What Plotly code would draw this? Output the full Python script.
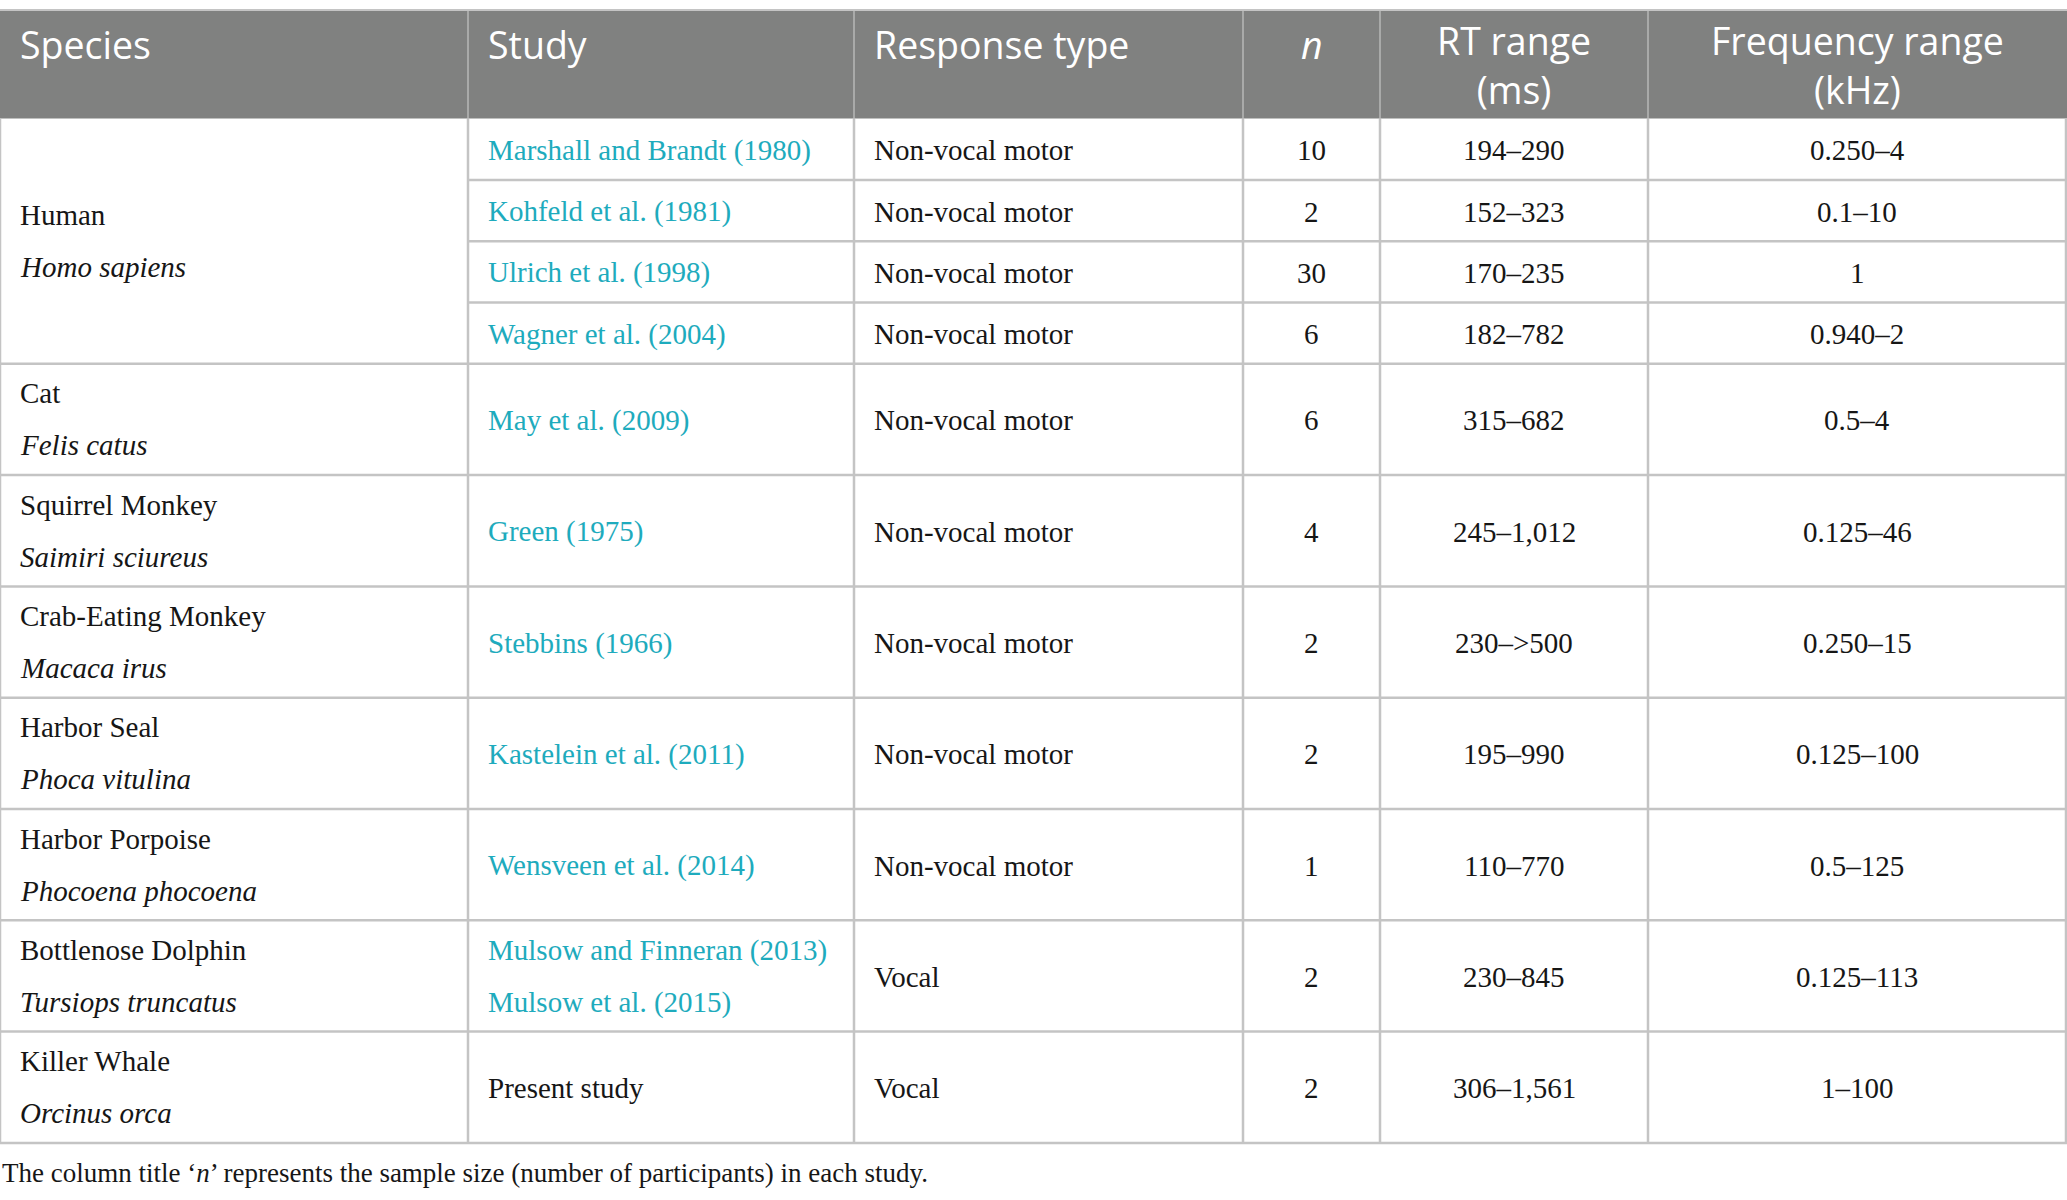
import plotly.graph_objects as go

# ---------------- data ----------------
headers = [["Species"], ["Study"], ["Response type"], ["<i>n</i>"], ["RT range", "(ms)"], ["Frequency range", "(kHz)"]]
species_common = ["Human", "Cat", "Squirrel Monkey", "Crab-Eating Monkey", "Harbor Seal",
                  "Harbor Porpoise", "Bottlenose Dolphin", "Killer Whale"]
species_latin = ["Homo sapiens", "Felis catus", "Saimiri sciureus", "Macaca irus", "Phoca vitulina",
                 "Phocoena phocoena", "Tursiops truncatus", "Orcinus orca"]
row_species = [0, 0, 0, 0, 1, 2, 3, 4, 5, 6, 7]
studies = [["Marshall and Brandt (1980)"], ["Kohfeld et al. (1981)"], ["Ulrich et al. (1998)"],
           ["Wagner et al. (2004)"], ["May et al. (2009)"], ["Green (1975)"], ["Stebbins (1966)"],
           ["Kastelein et al. (2011)"], ["Wensveen et al. (2014)"],
           ["Mulsow and Finneran (2013)", "Mulsow et al. (2015)"], ["Present study"]]
study_is_ref = [True, True, True, True, True, True, True, True, True, True, False]
response = ["Non-vocal motor"] * 9 + ["Vocal", "Vocal"]
n_vals = [10, 2, 30, 6, 6, 4, 2, 2, 1, 2, 2]
rt_range = ["194–290", "152–323", "170–235", "182–782", "315–682", "245–1,012", "230–>500",
            "195–990", "110–770", "230–845", "306–1,561"]
freq_range = ["0.250–4", "0.1–10", "1", "0.940–2", "0.5–4", "0.125–46", "0.250–15",
              "0.125–100", "0.5–125", "0.125–113", "1–100"]
footnote = "The column title ‘<i>n</i>’ represents the sample size (number of participants) in each study."

# ---------------- layout / style ----------------
W, H = 2067, 1200
col_w = [468, 386, 389, 137, 268, 418]
top = 10
header_h = 108.6
sub_h = 61.3       # height of a Human sub-row
row_h = 111.3      # height of other rows
line_gap = 52      # two-line cell spacing
head_gap = 42      # two-line header spacing
pad = 18

HEADER_BG = "#808180"
HEADER_SEP = "#a9aaa9"
GRID = "#c4c4c4"
LINK = "#1eabbd"
TXT = "#161616"
SERIF = "Liberation Serif"
SANS = "Open Sans"
BODY_SIZE = 29
HEAD_SIZE = 37.5
FOOT_SIZE = 27

col_x = [0]
for w in col_w:
    col_x.append(col_x[-1] + w)
col_x[-1] = W - 1

row_heights = [sub_h if row_species[i] == 0 else row_h for i in range(len(row_species))]
row_top = []
y = top + header_h
for h in row_heights:
    row_top.append(y)
    y += h
bottom = y

fig = go.Figure()
shapes = []
ann = []

# header background
shapes.append(dict(type="rect", xref="x", yref="y", x0=0, x1=W, y0=top, y1=top + header_h,
                   fillcolor=HEADER_BG, line=dict(width=0), layer="below"))
for cx in col_x[1:-1]:
    shapes.append(dict(type="line", xref="x", yref="y", x0=cx, x1=cx, y0=top, y1=top + header_h,
                       line=dict(color=HEADER_SEP, width=2)))

# header texts (multi-line headers as one text block)
for ci, lines in enumerate(headers):
    left = ci in (0, 1, 2)
    cx = col_x[ci] + pad if left else (col_x[ci] + col_x[ci + 1]) / 2
    yc = top + 34 + (len(lines) - 1) * head_gap / 2
    ann.append(dict(x=cx, y=yc, text="<br>".join(lines), xanchor="left" if left else "center",
                    yanchor="middle", showarrow=False, align="left" if left else "center",
                    font=dict(family=SANS, size=HEAD_SIZE, color="white")))

# species blocks
sp_top = {}
sp_bot = {}
for i, s in enumerate(row_species):
    sp_top.setdefault(s, row_top[i])
    sp_bot[s] = row_top[i] + row_heights[i]

for s in range(len(species_common)):
    yc = (sp_top[s] + sp_bot[s]) / 2
    ann.append(dict(x=col_x[0] + pad, y=yc - line_gap / 2, text=species_common[s], xanchor="left",
                    yanchor="middle", showarrow=False, font=dict(family=SERIF, size=BODY_SIZE, color=TXT)))
    ann.append(dict(x=col_x[0] + pad, y=yc + line_gap / 2, text="<i>" + species_latin[s] + "</i>",
                    xanchor="left", yanchor="middle", showarrow=False,
                    font=dict(family=SERIF, size=BODY_SIZE, color=TXT)))
    shapes.append(dict(type="line", xref="x", yref="y", x0=0, x1=W, y0=sp_bot[s], y1=sp_bot[s],
                       line=dict(color=GRID, width=2.5)))

# sub-row lines within a species block
for i in range(len(row_species) - 1):
    if row_species[i] == row_species[i + 1]:
        yb = row_top[i] + row_heights[i]
        shapes.append(dict(type="line", xref="x", yref="y", x0=col_x[1], x1=W, y0=yb, y1=yb,
                           line=dict(color=GRID, width=2.5)))

# row texts
for i in range(len(row_species)):
    yc = row_top[i] + row_heights[i] / 2 + 1
    lines = studies[i]
    for li, t in enumerate(lines):
        yy = yc + (li - (len(lines) - 1) / 2) * line_gap
        ann.append(dict(x=col_x[1] + pad, y=yy, text=t, xanchor="left", yanchor="middle", showarrow=False,
                        font=dict(family=SERIF, size=BODY_SIZE, color=LINK if study_is_ref[i] else TXT)))
    ann.append(dict(x=col_x[2] + pad, y=yc, text=response[i], xanchor="left", yanchor="middle",
                    showarrow=False, font=dict(family=SERIF, size=BODY_SIZE, color=TXT)))
    for ci, val in ((3, str(n_vals[i])), (4, rt_range[i]), (5, freq_range[i])):
        ann.append(dict(x=(col_x[ci] + col_x[ci + 1]) / 2, y=yc, text=val, xanchor="center",
                        yanchor="middle", showarrow=False, font=dict(family=SERIF, size=BODY_SIZE, color=TXT)))

# vertical grid lines in body
for cx in col_x:
    shapes.append(dict(type="line", xref="x", yref="y", x0=cx, x1=cx, y0=top + header_h, y1=bottom,
                       line=dict(color=GRID, width=2.5)))
shapes.append(dict(type="line", xref="x", yref="y", x0=0, x1=W, y0=top, y1=top,
                   line=dict(color=GRID, width=2)))

# footnote
ann.append(dict(x=0, y=bottom + 30, text=footnote, xanchor="left", yanchor="middle", showarrow=False,
                font=dict(family=SERIF, size=FOOT_SIZE, color=TXT)))

fig.add_trace(go.Scatter(x=[0, W], y=[0, H], mode="markers", marker=dict(opacity=0), hoverinfo="skip",
                         showlegend=False))
fig.update_layout(width=W, height=H, margin=dict(l=0, r=0, t=0, b=0), paper_bgcolor="white",
                  plot_bgcolor="white", shapes=shapes, annotations=ann, showlegend=False,
                  xaxis=dict(range=[0, W], visible=False, fixedrange=True),
                  yaxis=dict(range=[H, 0], visible=False, fixedrange=True))
fig.write_html("out.html", config=dict(displayModeBar=False),
               post_script="document.body.style.margin='0';document.body.style.overflow='hidden';")
